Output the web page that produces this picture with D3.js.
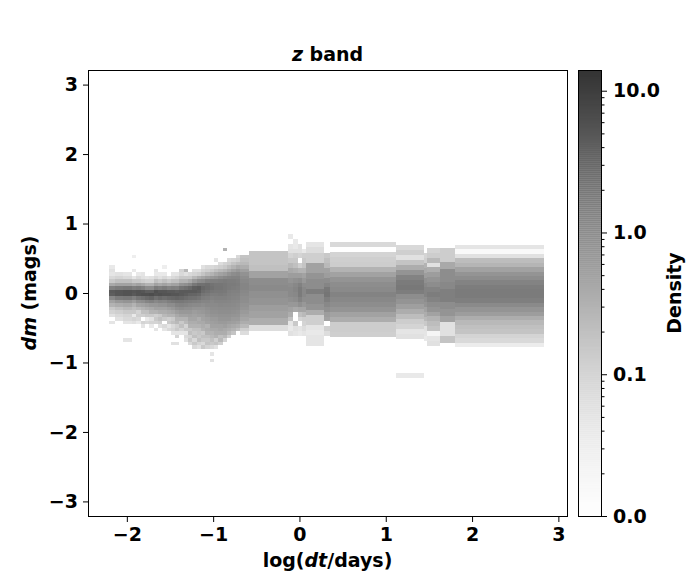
<!DOCTYPE html>
<html>
<head>
<meta charset="utf-8">
<script src="https://cdn.jsdelivr.net/npm/d3@7"></script>
<style>
body { margin: 0; background: #fff; }
text { font-family: "DejaVu Sans", sans-serif; font-weight: bold; }
</style>
</head>
<body>
<script>
// bin edges in log(dt/days), one column of cells between each pair
var xEdges = [-2.21, -2.14, -2.04, -1.94, -1.89, -1.84, -1.79, -1.74, -1.69, -1.64, -1.59,
  -1.54, -1.49, -1.44, -1.39, -1.34, -1.29, -1.24, -1.19, -1.14, -1.09, -1.04, -0.99,
  -0.94, -0.89, -0.84, -0.79, -0.74, -0.69, -0.59, -0.13, -0.07, -0.02, 0.03, 0.08,
  0.29, 0.35, 1.12, 1.44, 1.48, 1.63, 1.80, 2.83];

// lower dm edge of the first cell in each column, and the dm bin height
var yLow = [-0.45, -0.40, -0.70, -0.45, -0.45, -0.50, -0.45, -0.50, -0.55, -0.50, -0.55, -0.55,
  -0.80, -0.80, -0.80, -0.80, -0.80, -0.80, -0.80, -0.80, -0.80, -1.05,
  -0.80, -0.80, -0.80, -0.80, -0.80, -0.80, -0.80,
  -0.55, -0.62, -0.62, -0.62, -0.62, -0.76, -0.62, -0.63, -1.228, -0.69, -0.76, -0.715, -0.777];
var yStep = [0.05, 0.05, 0.05, 0.05, 0.05, 0.05, 0.05, 0.05, 0.05, 0.05, 0.05, 0.05,
  0.05, 0.05, 0.05, 0.05, 0.05, 0.05, 0.05, 0.05, 0.05, 0.05,
  0.05, 0.05, 0.05, 0.05, 0.05, 0.05, 0.05,
  0.096, 0.07, 0.07, 0.07, 0.07, 0.0745, 0.07, 0.072, 0.071, 0.07, 0.0705, 0.097, 0.0638];

// density per cell, bottom to top
var density = [
  [.05,0,.06,.1,.15,.3,.5,1.2,4,4.5,1.5,.4,.15,.08,.05,.06,.04],
  [.06,.08,.12,.2,.35,.7,1.8,5,5,1.8,.5,.2,.1,.06],
  [.05,0,0,0,0,.05,.08,.1,.15,.25,.4,.8,2,5.5,5.5,2,.5,.2,.08,.05],
  [.06,.1,.04,.15,.2,.3,.6,1.5,4.5,5,1.6,.4,.15,.05,0,.04,0,0,0,.03],
  [.04,.08,.12,.1,.25,.45,.9,2.2,5.5,5.5,1.8,.5,.15,.08,.04],
  [.05,.1,0,.12,.2,.3,.5,1,2.5,6,5,1.5,.4,.12,.06,.05],
  [.08,.04,.15,.2,.35,.6,1.3,3,6,4,1,.3,.1,.05],
  [.04,.1,.06,.15,.3,.4,.7,1.5,3.5,6.5,4,1,.3,.1,.06],
  [.05,0,.1,.15,.12,.3,.5,.7,1.2,2.5,5.5,6,1.8,.5,.2,.08,.04,.05],
  [.06,.12,.2,.15,.35,.5,.8,1.4,3,6,5,1.5,.4,.15,.06,.04],
  [.05,.08,0,.15,.25,.35,.5,.8,1.3,2.6,5.5,5,1.8,.5,.2,.08,.04,0,.03],
  [.08,.05,.15,.12,.3,.4,.6,1,1.6,3,5.5,4.5,1.4,.4,.15,.06],
  [0,.06,0,0,.05,.1,.08,.2,.15,.3,.45,.7,1,1.8,3.2,5,4.5,1.6,.5,.2,.08,.05],
  [0,.06,0,.1,.05,.15,.12,.25,.3,.4,.6,.9,1.3,2,3.5,5,4,1.5,.5,.2,.1,.05],
  [0,0,0,0,.05,.1,.2,.15,.3,.5,.7,1,1.4,2,3.2,4.5,4.5,2.2,.8,.3,.15,.08,.1],
  [0,0,.06,.08,.05,.15,.1,.25,.3,.5,.7,.9,1.3,1.8,2.8,4,4.5,2.5,.9,.3,.15,.06,.25],
  [0,.08,.15,.1,.2,.15,.3,.35,.45,.55,.7,.9,1.2,1.7,2.5,3.5,4.5,3,1.2,.4,.15,.08],
  [.08,.15,.08,.2,.15,.2,.3,.35,.45,.5,.6,.8,1.1,1.6,2.4,3.4,4.5,4,2,.7,.25,.1,.06],
  [.06,.1,.2,.15,.18,.2,.3,.4,.35,.55,.65,.8,1.1,1.5,2.2,3,4,4.5,2.5,1,.35,.12,.06],
  [.15,.08,.15,.2,.15,.3,.35,.4,.5,.55,.7,.8,1,1.3,1.7,2.2,2.8,3.2,2.4,1.1,.45,.18,.1,.06],
  [.1,.18,.15,.2,.3,.35,.3,.5,.55,.7,.8,.9,1.1,1.3,1.6,2,2.4,2.8,2.6,1.5,.6,.25,.12,.08],
  [0,.06,0,.05,0,.08,.15,.2,.25,.3,.4,.5,.55,.65,.8,.9,1,1.1,1.2,1.4,1.7,2.1,2.5,2.3,1.6,.7,.3,.15,.08],
  [.06,.18,.12,.3,.35,.4,.5,.6,.65,.8,.9,1,1.1,1.3,1.5,1.7,2,2.2,2.1,1.6,.8,.4,.2,.1,0,.05],
  [0,.12,.25,.2,.35,.45,.5,.65,.75,.85,.95,1.05,1.2,1.3,1.5,1.8,2,2.2,2.1,1.7,1,.5,.25,.12,.07],
  [0,0,.1,.25,.35,.4,.55,.65,.75,.85,.95,1.05,1.15,1.3,1.5,1.7,1.9,2,2,1.8,1.2,.6,.3,.15,.1,0,0,0,.3],
  [0,0,0,.12,.25,.35,.45,.6,.75,.85,.95,1.05,1.15,1.25,1.4,1.5,1.6,1.8,1.8,1.7,1.3,.8,.4,.22,.12,.08],
  [0,0,0,0,.18,.3,.4,.55,.65,.8,.9,1,1.1,1.2,1.3,1.4,1.5,1.7,1.8,1.7,1.4,1,.55,.3,.18,.1],
  [0,0,0,0,0,.22,.35,.5,.65,.75,.85,.95,1.05,1.15,1.25,1.35,1.45,1.6,1.7,1.6,1.4,1.1,.7,.4,.22,.12,.08],
  [0,0,0,0,.07,.12,.25,.35,.45,.55,.65,.75,.85,.95,1,1.1,1.2,1.3,1.3,1.2,1.05,.85,.55,.35,.25,.2,.18],
  [.07,.35,.5,.6,.8,.9,1.1,1,.5,.2,.18,.18],
  [.06,.04,.05,.2,.35,.5,.7,.9,1.1,1.1,1,.8,.6,.4,.25,.15,.1,.06,.05,0,.04],
  [.05,.06,.15,0,0,.4,.7,1,1.2,1.3,1.2,.9,.6,.35,.2,.15,.12,.06,.04,.04],
  [.04,.05,0,.1,.2,.45,.9,1.4,1.8,1.8,1.5,1,.6,.3,.12,0,.1,.06,.06],
  [.05,.07,.1,.12,.25,.45,.7,1,1.2,1.2,1,.7,.5,.3,.18,.15,.12,.04],
  [.05,.05,.04,.05,.12,.12,.35,.8,1,1,1.7,1,1,.8,.5,.5,.12,.12,.07,.05],
  [.07,.12,0,.5,.6,.9,1.2,1.6,2.2,2,1.3,1,.6,.5,.25,.2,.15],
  [.12,.13,.13,.35,.5,.8,1,1.2,1.4,1.1,1,.8,.5,.3,.13,.12,.1,.01,.08],
  [.04,0,0,0,0,0,0,0,.06,.05,.1,.13,.22,.35,.55,.8,1,1.7,2,1.8,1.4,.8,.35,.18,.06,.12,.08],
  [.04,.05,.06,.15,.25,.35,.5,.8,1,1.4,1.4,1.2,.9,.6,.4,.3,.12,.1],
  [.06,.05,.02,.18,.22,.3,.5,.8,1,1.4,1.7,1.4,1,.8,.6,.35,.06,.25,.13,.1],
  [.18,.06,.06,.5,.8,1,1.6,1.6,1.2,1,1,.4,.13,.13],
  [.035,.08,.1,.18,.2,.25,.35,.6,.8,1.1,1.6,1.8,1.8,1.7,1.4,1,.8,.5,.28,.22,.06,.015,.05]
];

var xTicks = [-2, -1, 0, 1, 2, 3];
var yTicks = [-3, -2, -1, 0, 1, 2, 3];
var barTicks = [0.01, 0.1, 1, 10];
var barLabels = ["0.0", "0.1", "1.0", "10.0"];
var barMinor = [0.02, 0.03, 0.04, 0.05, 0.06, 0.07, 0.08, 0.09,
  0.2, 0.3, 0.4, 0.5, 0.6, 0.7, 0.8, 0.9, 2, 3, 4, 5, 6, 7, 8, 9];

var width = 700, height = 580;
var plot = {left: 88, right: 567, top: 70, bottom: 516};
var bar = {left: 578, right: 601};
var fontSize = 19;

var svg = d3.select("body").append("svg")
    .attr("width", width)
    .attr("height", height);

var x = d3.scaleLinear().domain([-2.45, 3.1]).range([plot.left, plot.right]);
var y = d3.scaleLinear().domain([-3.21, 3.21]).range([plot.bottom, plot.top]);
var c = d3.scaleLog().domain([0.01, 14]).range([0, 1]).clamp(true);
var cy = d3.scaleLog().domain([0.01, 14]).range([plot.bottom, plot.top]);

// Greys at 0.8 alpha over white
function shade(d) {
  return d3.interpolateRgb("#ffffff", d3.interpolateGreys(c(d)))(0.8);
}

// flatten the columns into cells
var cells = [];
density.forEach(function(col, i) {
  col.forEach(function(d, j) {
    if (d > 0) cells.push({
      x0: xEdges[i], x1: xEdges[i + 1],
      y0: yLow[i] + j * yStep[i], y1: yLow[i] + (j + 1) * yStep[i], d: d
    });
  });
});

svg.append("g")
   .selectAll("rect")
   .data(cells)
   .join("rect")
   .attr("x", d => x(d.x0))
   .attr("width", d => x(d.x1) - x(d.x0))
   .attr("y", d => y(d.y1))
   .attr("height", d => y(d.y0) - y(d.y1))
   .attr("fill", d => shade(d.d))
   .attr("shape-rendering", "crispEdges");

// frame
svg.append("rect")
   .attr("x", plot.left + 0.5).attr("y", plot.top + 0.5)
   .attr("width", plot.right - plot.left).attr("height", plot.bottom - plot.top)
   .attr("fill", "none").attr("stroke", "#000").attr("stroke-width", 1);

// X axis
svg.append("g")
   .attr("transform", `translate(0, ${plot.bottom + 1})`)
   .call(d3.axisBottom(x).tickValues(xTicks).tickSize(5).tickPadding(6).tickFormat(d3.format("d")))
   .call(g => g.select(".domain").remove())
   .attr("font-size", fontSize)
   .attr("font-family", "DejaVu Sans");

// Y axis
svg.append("g")
   .attr("transform", `translate(${plot.left}, 0)`)
   .call(d3.axisLeft(y).tickValues(yTicks).tickSize(5).tickPadding(5).tickFormat(d3.format("d")))
   .call(g => g.select(".domain").remove())
   .attr("font-size", fontSize)
   .attr("font-family", "DejaVu Sans");

// title
var title = svg.append("text")
   .attr("x", (plot.left + plot.right) / 2)
   .attr("y", 61)
   .attr("font-size", fontSize)
   .style("text-anchor", "middle");
title.append("tspan").style("font-style", "italic").text("z");
title.append("tspan").text(" band");

// X label
var xl = svg.append("text")
   .attr("x", (plot.left + plot.right) / 2)
   .attr("y", 567)
   .attr("font-size", fontSize)
   .style("text-anchor", "middle");
xl.append("tspan").text("log(");
xl.append("tspan").style("font-style", "italic").text("dt");
xl.append("tspan").text("/days)");

// Y label
var yl = svg.append("text")
   .attr("transform", "rotate(-90)")
   .attr("x", -(plot.top + plot.bottom) / 2)
   .attr("y", 36)
   .attr("font-size", fontSize)
   .style("text-anchor", "middle");
yl.append("tspan").style("font-style", "italic").text("dm");
yl.append("tspan").text(" (mags)");

// colour bar
var bands = d3.range(0, 224);
var bandH = (plot.bottom - plot.top) / bands.length;
svg.append("g")
   .selectAll("rect")
   .data(bands)
   .join("rect")
   .attr("x", bar.left)
   .attr("width", bar.right - bar.left)
   .attr("y", k => plot.bottom - (k + 1) * bandH)
   .attr("height", bandH + 0.3)
   .attr("fill", k => shade(cy.invert(plot.bottom - (k + 0.5) * bandH)));

svg.append("rect")
   .attr("x", bar.left + 0.5).attr("y", plot.top + 0.5)
   .attr("width", bar.right - bar.left).attr("height", plot.bottom - plot.top)
   .attr("fill", "none").attr("stroke", "#000").attr("stroke-width", 1);

svg.append("g")
   .attr("transform", `translate(${bar.right + 1}, 0)`)
   .call(d3.axisRight(cy).tickValues(barMinor).tickSize(2.5).tickFormat(""))
   .call(g => g.select(".domain").remove());

svg.append("g")
   .attr("transform", `translate(${bar.right + 1}, 0)`)
   .call(d3.axisRight(cy).tickValues(barTicks).tickSize(5).tickPadding(6)
     .tickFormat((d, i) => barLabels[i]))
   .call(g => g.select(".domain").remove())
   .attr("font-size", fontSize)
   .attr("font-family", "DejaVu Sans");

svg.append("text")
   .attr("transform", "rotate(-90)")
   .attr("x", -(plot.top + plot.bottom) / 2)
   .attr("y", 681)
   .attr("font-size", fontSize)
   .style("text-anchor", "middle")
   .text("Density");
</script>
</body>
</html>
